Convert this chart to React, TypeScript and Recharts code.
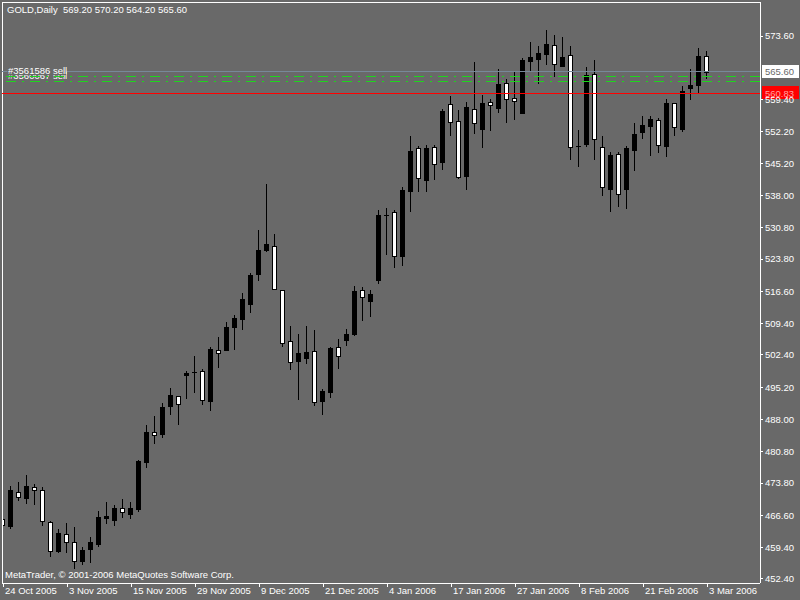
import { ComposedChart, Bar, XAxis, YAxis, ReferenceLine } from "recharts";

// MetaTrader GOLD daily, 24 Oct 2005 - 3 Mar 2006 (one bar per trading day)
const tickLabels = [
  "24 Oct 2005", "3 Nov 2005", "15 Nov 2005", "29 Nov 2005", "9 Dec 2005", "21 Dec 2005",
  "4 Jan 2006", "17 Jan 2006", "27 Jan 2006", "8 Feb 2006", "21 Feb 2006", "3 Mar 2006",
];
const barsPerLabel = 8;

const open = [
  465.7, 464.3, 471.9, 470.4, 472.9, 472.2, 465.2, 458.7, 462.4, 460.6,
  456.5, 459.0, 460.3, 466.0, 465.6, 468.2, 466.9, 468.0, 478.5, 485.2,
  484.8, 491.1, 493.2, 497.9, 498.5, 498.8, 492.2, 503.4, 503.6, 508.6,
  510.4, 513.8, 520.5, 525.8, 526.7, 516.8, 505.5, 501.1, 501.8, 503.2,
  492.2, 494.2, 504.1, 505.8, 507.1, 516.8, 514.5, 519.2, 533.6, 534.3,
  524.6, 539.1, 548.5, 541.5, 548.8, 545.5, 558.4, 554.6, 542.4, 557.2,
  552.9, 558.8, 557.6, 563.0, 559.7, 556.5, 568.1, 568.5, 569.6, 571.7,
  567.0, 569.3, 549.0, 549.6, 565.1, 548.9, 539.5, 547.2, 539.5, 548.2,
  552.2, 553.6, 554.8, 549.1, 558.6, 552.8, 562.1, 562.6, 569.2,
];
const high = [
  468.2, 473.2, 474.1, 475.6, 473.6, 472.9, 465.4, 463.6, 464.9, 464.0,
  459.5, 461.7, 467.6, 469.6, 468.8, 470.2, 469.5, 479.0, 486.8, 488.8,
  491.7, 495.0, 493.2, 498.8, 502.2, 499.3, 504.2, 506.4, 509.8, 511.3,
  516.2, 520.7, 530.3, 540.6, 529.4, 516.8, 508.9, 507.1, 508.9, 508.0,
  494.8, 504.2, 506.0, 508.2, 517.8, 517.6, 516.9, 534.8, 535.2, 534.8,
  539.9, 551.3, 549.0, 549.3, 549.3, 557.3, 560.2, 557.1, 558.9, 567.8,
  560.4, 559.5, 566.2, 564.0, 565.8, 568.8, 572.3, 571.4, 574.9, 573.8,
  573.4, 571.4, 552.6, 566.7, 568.2, 551.2, 547.6, 547.6, 549.0, 554.2,
  555.7, 555.7, 555.2, 559.5, 558.6, 562.4, 566.2, 570.9, 570.2,
];
const low = [
  462.7, 463.8, 470.0, 469.4, 469.1, 464.5, 457.6, 458.5, 458.5, 454.8,
  455.7, 456.1, 459.8, 465.0, 464.5, 466.3, 466.1, 467.6, 477.5, 482.8,
  484.2, 489.3, 487.1, 492.7, 494.2, 491.5, 490.2, 499.8, 503.4, 503.8,
  508.3, 512.1, 519.2, 525.7, 517.1, 504.5, 499.3, 492.6, 500.6, 491.2,
  489.3, 493.0, 499.6, 504.6, 506.9, 510.3, 511.0, 518.5, 524.9, 522.1,
  522.5, 534.6, 539.1, 539.1, 541.7, 544.0, 551.5, 542.0, 539.5, 552.0,
  548.9, 552.7, 556.6, 554.3, 555.1, 556.5, 566.0, 563.0, 567.4, 564.7,
  567.0, 546.2, 544.6, 549.1, 546.2, 538.0, 534.6, 535.7, 535.1, 543.8,
  550.9, 547.1, 547.6, 546.9, 551.6, 552.5, 559.6, 561.2, 564.2,
];
const close = [
  464.5, 472.3, 470.6, 473.2, 472.2, 465.3, 458.6, 462.6, 460.6, 456.4,
  458.9, 460.7, 466.2, 466.4, 468.2, 467.3, 468.2, 478.7, 485.2, 484.6,
  490.8, 493.5, 491.5, 498.4, 498.5, 492.4, 503.7, 502.8, 508.6, 510.7,
  514.9, 520.3, 525.8, 527.2, 517.1, 505.1, 500.9, 502.8, 503.1, 492.0,
  494.4, 504.0, 502.2, 507.1, 516.7, 515.3, 516.0, 533.6, 533.7, 524.6,
  539.2, 547.9, 541.8, 548.6, 545.0, 556.9, 554.3, 542.2, 557.8, 554.1,
  558.6, 558.1, 562.9, 559.5, 559.0, 568.2, 568.9, 569.8, 571.8, 567.3,
  568.9, 548.8, 549.1, 564.9, 550.5, 539.9, 547.0, 538.3, 548.6, 551.7,
  553.7, 555.0, 549.2, 558.6, 553.2, 561.3, 562.6, 569.1, 565.6,
];

// the 566.60 label sits under the bid price box, so it is left out
const priceTicks = [
  573.6, 559.4, 552.2, 545.2, 538.0, 530.8, 523.8, 516.6,
  509.4, 502.4, 495.2, 488.0, 480.8, 473.8, 466.6, 459.4, 452.4,
];
const bidPrice = 565.6;
const alertPrice = 560.83;
const orderPrices = [564.68, 563.49];
const orderNames = ["#3561586 sell", "#3560067 sell"];

const priceDomain = [451.5, 581.19];
const barDomain = [-0.125, 94.625];

const BG = "#696969";
const ORDER_GREEN = "#1ed41e";
const FONT = "'Liberation Sans', Arial, sans-serif";

const data = open.map((o, i) => ({
  i,
  o,
  h: high[i],
  l: low[i],
  c: close[i],
  range: [low[i], high[i]],
}));
const last = data[data.length - 1];

function Candle(props: any) {
  const { x, y, width, height, payload } = props;
  if (!payload || !height) return null;
  const { o, h, l, c } = payload;
  const k = height / (h - l);
  const py = (v: number) => Math.round(y + (h - v) * k);
  const cx = Math.floor(x + width / 2) + 0.5;
  const top = py(Math.max(o, c));
  const bot = py(Math.min(o, c));
  return (
    <g>
      <line x1={cx} x2={cx} y1={py(h)} y2={py(l) + 1} stroke="#000" />
      {bot - top < 1 ? (
        <line x1={cx - 2.5} x2={cx + 2.5} y1={top + 0.5} y2={top + 0.5} stroke="#000" />
      ) : (
        <rect x={cx - 2} y={top + 0.5} width={4} height={bot - top} fill={c >= o ? "#000" : "#fff"} stroke="#000" />
      )}
    </g>
  );
}

// dash-dot order line, drawn on whole pixel rows
function orderLine(p: any) {
  const yy = Math.round(p.y1) + 0.5;
  return (
    <line
      x1={p.x1}
      x2={p.x2}
      y1={yy}
      y2={yy}
      stroke={ORDER_GREEN}
      strokeWidth={1}
      strokeDasharray="10 6 2 6"
      style={{ stroke: ORDER_GREEN }}
    />
  );
}

function XTick(props: any) {
  const { x, y, payload } = props;
  return (
    <text x={x + 2} y={y + 5} fill="#fff" fontSize={9.5} fontFamily={FONT} textAnchor="start">
      {tickLabels[payload.value / barsPerLabel]}
    </text>
  );
}

function PriceBox(props: any) {
  const { viewBox, fill, color, text } = props;
  if (!viewBox) return null;
  const bx = viewBox.x + viewBox.width + 2;
  return (
    <g>
      <rect x={bx} y={Math.round(viewBox.y) - 7} width={37} height={13} fill={fill} />
      <text x={bx + 3} y={viewBox.y} dy="0.36em" fill={color} fontSize={9.5} fontFamily={FONT}>
        {text}
      </text>
    </g>
  );
}

function OrderTag(props: any) {
  const { viewBox, text, cover } = props;
  if (!viewBox) return null;
  const tx = viewBox.x + 6;
  const base = Math.round(viewBox.y) - 2;
  return (
    <g>
      {cover && <rect x={tx - 1} y={base - 9} width={59} height={10} fill={BG} />}
      <text x={tx} y={base} fill="#fff" fontSize={9.5} fontFamily={FONT}>
        {text}
      </text>
    </g>
  );
}

export default function App() {
  return (
    <div style={{ position: "fixed", left: 0, top: 0, width: 800, height: 600, background: BG, overflow: "hidden" }}>
      <style>{`.recharts-surface line, .recharts-surface rect, .recharts-surface path { shape-rendering: crispEdges; }`}</style>
      <ComposedChart width={800} height={600} data={data} margin={{ top: 2, right: 0, bottom: 0, left: 2 }}>
        <XAxis
          type="number"
          dataKey="i"
          domain={barDomain}
          ticks={tickLabels.map((_, k) => k * barsPerLabel)}
          interval={0}
          allowDataOverflow
          height={17}
          tickSize={4}
          tick={<XTick />}
          axisLine={{ stroke: "#fff" }}
          tickLine={{ stroke: "#fff" }}
        />
        <YAxis
          orientation="right"
          domain={priceDomain}
          ticks={priceTicks}
          interval={0}
          allowDataOverflow
          width={40}
          tickSize={3}
          tickMargin={2}
          tickFormatter={(v: number) => v.toFixed(2)}
          tick={{ fill: "#fff", fontSize: 9.5, fontFamily: FONT }}
          axisLine={{ stroke: "#fff" }}
          tickLine={{ stroke: "#fff" }}
        />
        <ReferenceLine y={priceDomain[1]} stroke="#fff" />
        <ReferenceLine x={barDomain[0]} stroke="#fff" />
        <ReferenceLine
          y={bidPrice}
          stroke="#778899"
          label={<PriceBox fill="#fff" color={BG} text={bidPrice.toFixed(2)} />}
        />
        <ReferenceLine
          y={alertPrice}
          stroke="#ff0000"
          label={<PriceBox fill="#ff0000" color="#ffa0a0" text={alertPrice.toFixed(2)} />}
        />
        <ReferenceLine
          y={orderPrices[1]}
          stroke={ORDER_GREEN}
          shape={orderLine}
          label={<OrderTag text={orderNames[1]} />}
        />
        <ReferenceLine
          y={orderPrices[0]}
          stroke={ORDER_GREEN}
          shape={orderLine}
          label={<OrderTag text={orderNames[0]} cover />}
        />
        <Bar dataKey="range" barSize={5} shape={<Candle />} isAnimationActive={false} />
      </ComposedChart>
      <div style={{ position: "absolute", left: 7, top: 4, color: "#fff", fontSize: 9.5, lineHeight: "12px", fontFamily: FONT, whiteSpace: "pre" }}>
        {`GOLD,Daily  ${last.o.toFixed(2)} ${last.h.toFixed(2)} ${last.l.toFixed(2)} ${last.c.toFixed(2)}`}
      </div>
      <div style={{ position: "absolute", left: 5, top: 569, color: "#fff", fontSize: 9.5, lineHeight: "12px", fontFamily: FONT, whiteSpace: "pre" }}>
        MetaTrader, © 2001-2006 MetaQuotes Software Corp.
      </div>
    </div>
  );
}
